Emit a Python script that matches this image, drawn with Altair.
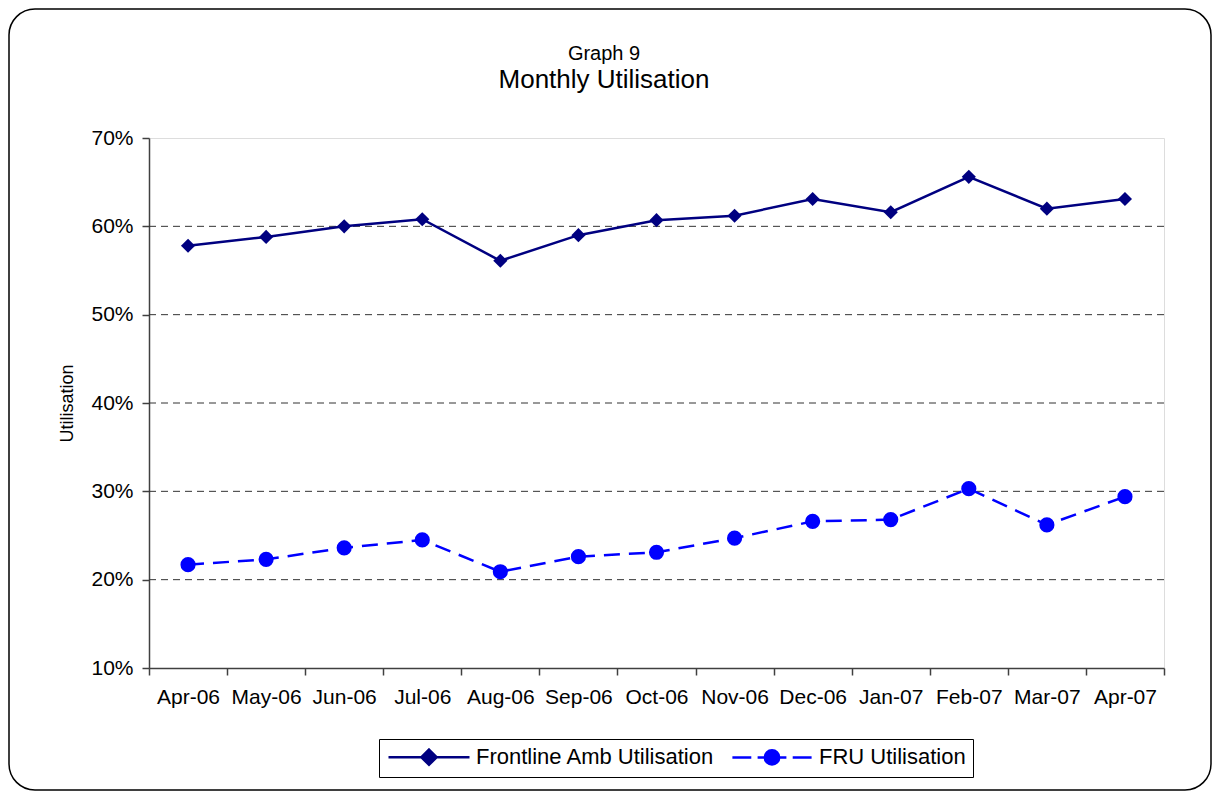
import altair as alt
import pandas as pd

months = ["Apr-06", "May-06", "Jun-06", "Jul-06", "Aug-06", "Sep-06", "Oct-06",
          "Nov-06", "Dec-06", "Jan-07", "Feb-07", "Mar-07", "Apr-07"]
frontline = [0.578, 0.588, 0.600, 0.608, 0.561, 0.590, 0.607,
             0.612, 0.631, 0.616, 0.656, 0.620, 0.631]
fru = [0.217, 0.223, 0.236, 0.245, 0.209, 0.226, 0.231,
       0.247, 0.266, 0.268, 0.303, 0.262, 0.294]
series_names = ["Frontline Amb Utilisation", "FRU Utilisation"]
y_ticks = [0.1, 0.2, 0.3, 0.4, 0.5, 0.6, 0.7]
grid_values = [0.2, 0.3, 0.4, 0.5, 0.6]
title_lines = ["Graph 9", "Monthly Utilisation"]

rows = []
for m, v in zip(months, frontline):
    rows.append({"month": m, "value": v, "series": series_names[0]})
for m, v in zip(months, fru):
    rows.append({"month": m, "value": v, "series": series_names[1]})
df = pd.DataFrame(rows)

FONT = "Liberation Sans"
colors = ["#000080", "#0000FF"]

x_enc = alt.X("month:O", sort=months, bandPosition=0.5,
              scale=alt.Scale(type="band", paddingInner=0, paddingOuter=0),
              axis=alt.Axis(title=None, tickBand="extent", labelAngle=0, grid=False,
                            labelFont=FONT, labelFontSize=21, labelColor="black",
                            domainColor="#404040", domainWidth=1.5, tickColor="#404040",
                            tickWidth=1.5, tickSize=7, labelPadding=11))
y_scale = alt.Scale(domain=[0.1, 0.7], nice=False, zero=False)
y_enc = alt.Y("value:Q", scale=y_scale,
              axis=alt.Axis(title="Utilisation", values=y_ticks, format=".0%",
                            labelFont=FONT, labelFontSize=21, labelColor="black",
                            titleFont=FONT, titleFontSize=18, titleFontWeight="normal",
                            titleColor="black", titlePadding=14,
                            domainColor="#404040", domainWidth=1.5, tickColor="#404040",
                            tickWidth=1.5, tickSize=7, labelPadding=9, grid=False))

base = alt.Chart(df)

grid = alt.Chart(pd.DataFrame({"g": grid_values})).mark_rule(
    strokeDash=[7, 5], color="#333333", strokeWidth=1
).encode(y=alt.Y("g:Q", scale=y_scale))

front_df = df[df["series"] == series_names[0]]
fru_df = df[df["series"] == series_names[1]]

line_front = alt.Chart(front_df).mark_line(strokeWidth=2.5, color=colors[0]).encode(x=x_enc, y=y_enc)
line_fru = alt.Chart(fru_df).mark_line(strokeWidth=2.5, color=colors[1], strokeDash=[16, 9]).encode(x=x_enc, y=y_enc)
pts_front = alt.Chart(front_df).mark_point(filled=True, opacity=1, shape="diamond", size=200,
                                           color=colors[0]).encode(x=x_enc, y=y_enc)
pts_fru = alt.Chart(fru_df).mark_point(filled=True, opacity=1, shape="circle", size=230,
                                       color=colors[1]).encode(x=x_enc, y=y_enc)

# legend symbols: wide line + marker paths (unit = sqrt(symbolSize)/2 = 9px)
path_front = "M-4.5,0H4.5M0,-0.85L0.85,0L0,0.85L-0.85,0Z"
path_fru = ("M-4.4,0H-2.3M-1.6,0H1.6M2.3,0H4.4"
            "M0.8,0A0.8,0.8,0,1,1,-0.8,0A0.8,0.8,0,1,1,0.8,0Z")

leg = alt.Legend(title=None, orient="none", legendX=230, legendY=601, direction="horizontal",
                 labelFont=FONT, labelFontSize=22, labelColor="black", labelLimit=500,
                 symbolSize=324, symbolStrokeWidth=2.5, symbolOpacity=1,
                 symbolOffset=32, labelOffset=36, columnPadding=12, padding=7,
                 strokeColor="black", fillColor="white")

legend_layer = base.mark_point(filled=True, opacity=0).encode(
    x=x_enc, y=y_enc,
    fill=alt.Fill("series:N", scale=alt.Scale(domain=series_names, range=colors), legend=leg),
    stroke=alt.Stroke("series:N", scale=alt.Scale(domain=series_names, range=colors), legend=leg),
    shape=alt.Shape("series:N", scale=alt.Scale(domain=series_names, range=[path_front, path_fru]), legend=leg),
)

frame = alt.Chart(alt.Data(values=[{"k": 1}])).mark_rect(
    fillOpacity=0, stroke="black", strokeWidth=1.5, cornerRadius=26
).encode(x=alt.value(-140), x2=alt.value(1062), y=alt.value(-129), y2=alt.value(652))

title1 = alt.Chart(alt.Data(values=[{"t": title_lines[0]}])).mark_text(
    font=FONT, fontSize=20, color="black", align="center", baseline="alphabetic"
).encode(text="t:N", x=alt.value(455), y=alt.value(-78))
title2 = alt.Chart(alt.Data(values=[{"t": title_lines[1]}])).mark_text(
    font=FONT, fontSize=26, color="black", align="center", baseline="alphabetic"
).encode(text="t:N", x=alt.value(455), y=alt.value(-50))

chart = alt.layer(frame, grid, line_front, line_fru, pts_front, pts_fru, legend_layer,
                  title1, title2).properties(
    width=1015, height=530,
    padding={"left": 141, "top": 130, "right": 48, "bottom": 124},
    autosize=alt.AutoSizeParams(type="none"),
).configure_view(stroke="#808080", strokeWidth=2).configure(background="white")

chart.save("out.html", embed_options={"renderer": "svg", "actions": False})
